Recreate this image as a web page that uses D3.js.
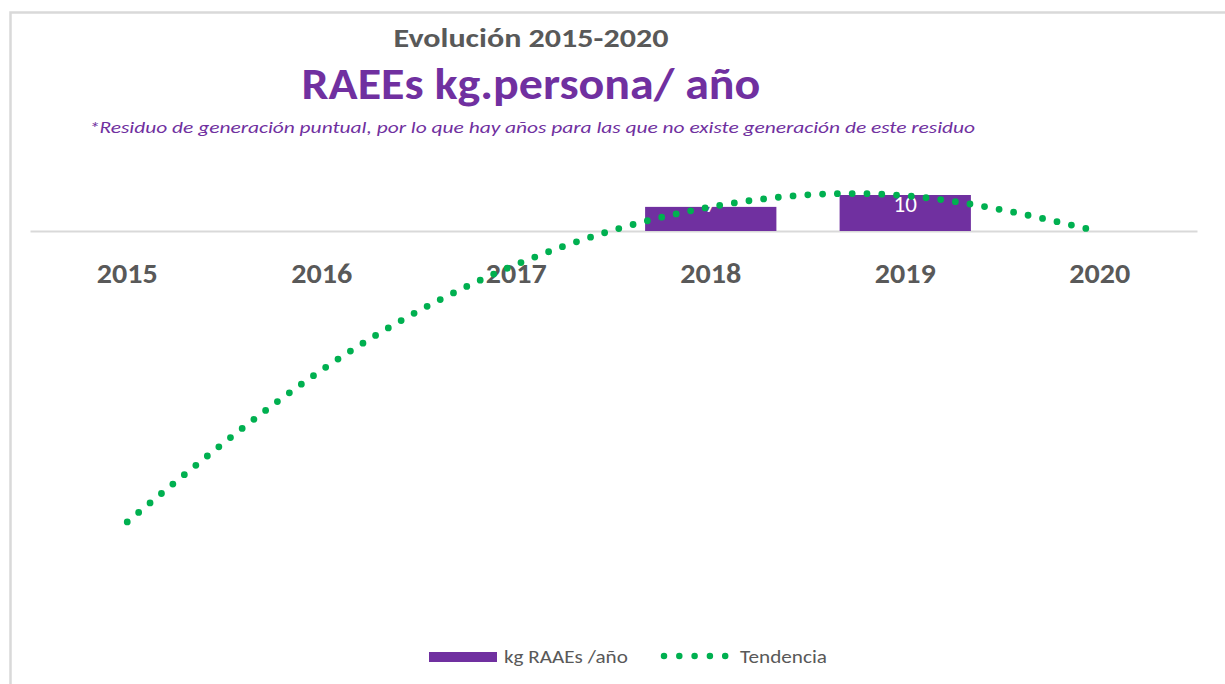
<!DOCTYPE html>
<html>
<head>
<meta charset="utf-8">
<script src="https://cdn.jsdelivr.net/npm/d3@7"></script>
<style>
  body { margin: 0; background: #ffffff; }
  svg { display: block; font-family: Carlito, Calibri, Lato, sans-serif; }
</style>
</head>
<body>
<div id="chart"></div>
<script>
// Data
const years = ["2015", "2016", "2017", "2018", "2019", "2020"];
const kgPerYear = [null, null, null, 6.7, 10, null];
const trendValues = [-80.8, -38.6, -9.3, 6.7, 9.8, -0.2];
const legendLabels = ["kg RAAEs /año", "Tendencia"];

// Layout constants
const width = 1225,
      height = 684,
      plotLeft = 30,
      plotRight = 1197,
      purple = "#7030A0",
      green = "#00B050",
      gray = "#595959";

var svg = d3.select("#chart").append("svg")
    .attr("width", width)
    .attr("height", height);

/**
 * Adds a text and stretches its glyphs horizontally to the width
 * it has in the original (Calibri) picture.
 * anchor : "start" -> xPos is the left edge, "middle" -> xPos is the centre
 */
function addText(parent, txt, xPos, yPos, size, len, anchor) {
    var t = parent.append("text")
        .attr("text-anchor", anchor || "start")
        .style("font-size", size + "px")
        .text(txt);
    var natural = t.node().getComputedTextLength();
    var sx = len / natural;
    t.attr("transform", "translate(" + xPos + "," + yPos + ") scale(" + sx + ",1)");
    return t;
}

// Chart frame (goes past the bottom/right edges, as in the screenshot)
svg.append("rect")
    .attr("x", 10.5)
    .attr("y", 12.5)
    .attr("width", width + 20)
    .attr("height", height + 20)
    .style("fill", "none")
    .style("stroke", "#d9d9d9")
    .style("stroke-width", 2.5);

// Titles
addText(svg, "Evolución 2015-2020", 531, 47, 26, 272, "middle")
    .style("font-weight", "bold")
    .style("fill", gray);

addText(svg, "RAEEs kg.persona/ año", 531, 99, 44, 447, "middle")
    .style("font-weight", "bold")
    .style("fill", purple);

addText(svg, "*Residuo de generación puntual, por lo que hay años para las que no existe generación de este residuo",
        532, 133, 16, 892, "middle")
    .style("font-style", "italic")
    .style("fill", purple);

// Scales
var x = d3.scaleBand()
    .domain(years)
    .range([plotLeft, plotRight])
    .padding(0);

var y = d3.scaleLinear()
    .domain([-100, 20])
    .range([591, 159]);

var barWidth = x.bandwidth() * 0.675;

// Category axis (line at 0, labels below)
var xAxis = d3.axisBottom(x).tickSize(0).tickPadding(0);
var axisG = svg.append("g")
    .attr("transform", "translate(0," + y(0) + ")")
    .call(xAxis);
axisG.select(".domain")
    .style("stroke", "#d9d9d9")
    .style("stroke-width", 2);
axisG.selectAll(".tick text")
    .attr("dy", null)
    .attr("y", 52)
    .style("font-family", "Carlito, Calibri, Lato, sans-serif")
    .style("font-size", "28px")
    .style("font-weight", "bold")
    .style("fill", gray)
    .attr("transform", function () {
        // stretch to the width the labels have in the original
        var sx = 61 / this.getComputedTextLength();
        return "scale(" + sx + ",1)";
    });

// Bars
var barData = years.map(function (d, i) { return { year: d, value: kgPerYear[i] }; })
    .filter(function (d) { return d.value != null; });

svg.append("g").selectAll("rect")
    .data(barData)
    .enter().append("rect")
    .attr("x", function (d) { return x(d.year) + (x.bandwidth() - barWidth) / 2; })
    .attr("y", function (d) { return y(d.value); })
    .attr("width", barWidth)
    .attr("height", function (d) { return y(0) - y(d.value); })
    .style("fill", purple);

// Data labels (white, sitting under the top of the tallest bar)
var labelY = y(d3.max(kgPerYear)) + 17;
svg.append("g").selectAll("text")
    .data(barData)
    .enter().append("text")
    .attr("x", function (d) { return x(d.year) + x.bandwidth() / 2; })
    .attr("y", labelY)
    .attr("text-anchor", "middle")
    .style("font-size", "23px")
    .style("fill", "#ffffff")
    .text(function (d) { return d3.format(".0f")(d.value); });

// Trend line, dotted
var trendLine = d3.line()
    .x(function (d, i) { return x(years[i]) + x.bandwidth() / 2; })
    .y(function (d) { return y(d); })
    .curve(d3.curveNatural);

svg.append("path")
    .datum(trendValues)
    .attr("d", trendLine)
    .style("fill", "none")
    .style("stroke", green)
    .style("stroke-width", 6.8)
    .style("stroke-linecap", "round")
    .style("stroke-dasharray", "0 14.8");

// Legend
var legend = svg.append("g");
legend.append("rect")
    .attr("x", 429).attr("y", 652)
    .attr("width", 68).attr("height", 10)
    .style("fill", purple);
addText(legend, legendLabels[0], 504, 663, 18, 124)
    .style("fill", gray);
legend.append("line")
    .attr("x1", 664).attr("x2", 727)
    .attr("y1", 656).attr("y2", 656)
    .style("stroke", green)
    .style("stroke-width", 6.5)
    .style("stroke-linecap", "round")
    .style("stroke-dasharray", "0 15.3");
addText(legend, legendLabels[1], 740, 663, 18, 87)
    .style("fill", gray);
</script>
</body>
</html>
